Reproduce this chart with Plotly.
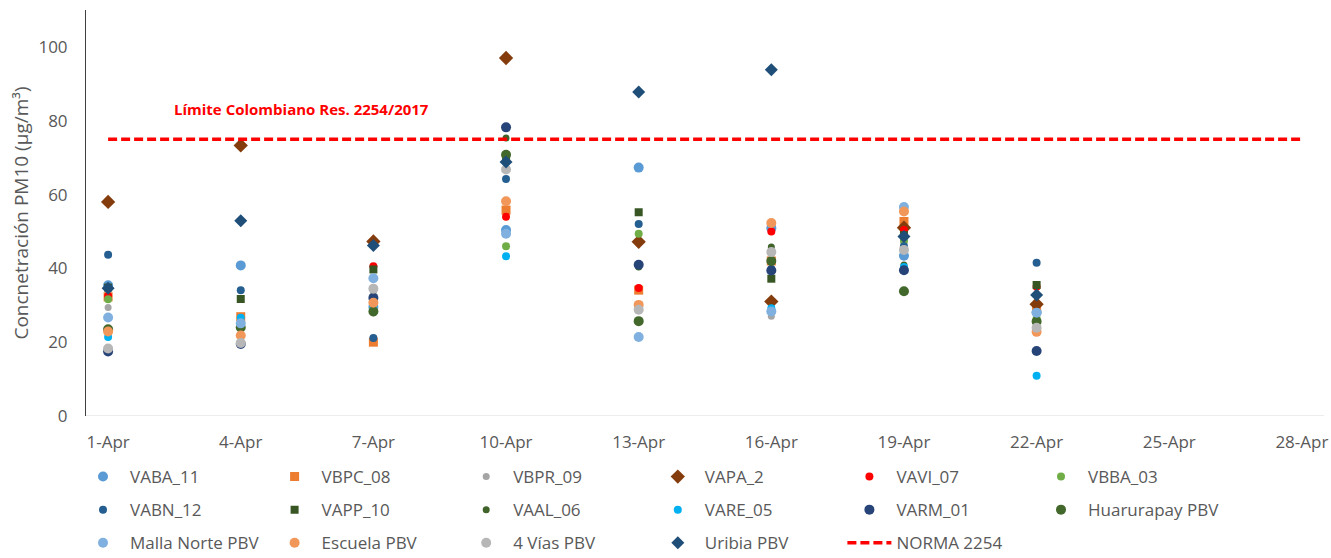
import plotly.graph_objects as go

# ---------------- data ----------------
dates = ["2021-04-01", "2021-04-04", "2021-04-07", "2021-04-10",
         "2021-04-13", "2021-04-16", "2021-04-19", "2021-04-22"]

VABA_11 = [35.4, 40.8, 29.5, 50.4, 67.3, 50.9, 43.4, 28.1]
VBPC_08 = [32.3, 26.9, 20.0, 55.8, 34.1, 42.0, 52.7, 29.2]
VBPR_09 = [29.4, 20.0, 33.5, 67.0, 29.0, 27.0, 47.0, 24.5]
VAPA_2 = [58.0, 73.3, 47.3, 97.0, 47.2, 31.0, 51.0, 30.3]
VAVI_07 = [32.5, 25.0, 40.6, 54.0, 34.7, 50.0, 50.4, 35.0]
VBBA_03 = [31.6, 24.0, 29.0, 46.0, 49.4, 44.5, 47.5, 26.5]
VABN_12 = [43.7, 34.1, 21.1, 64.2, 52.0, 39.8, 46.0, 41.5]
VAPP_10 = [34.8, 31.7, 39.7, 70.5, 55.2, 37.2, 49.0, 35.5]
VAAL_06 = [23.6, 24.5, 28.0, 75.3, 40.4, 45.8, 40.9, 26.0]
VARE_05 = [21.4, 26.6, 30.0, 43.3, 29.5, 29.2, 40.4, 10.9]
VARM_01 = [17.5, 19.5, 32.0, 78.2, 41.0, 39.4, 39.5, 17.6]
HUARURAPAY = [23.5, 24.0, 28.3, 70.8, 25.7, 42.0, 33.8, 25.6]
MALLA_NORTE = [26.7, 25.1, 37.3, 49.4, 21.4, 28.3, 56.6, 28.0]
ESCUELA = [22.9, 21.8, 30.7, 58.2, 30.1, 52.3, 55.4, 22.8]
CUATRO_VIAS = [18.3, 19.8, 34.5, 66.8, 28.8, 44.4, 45.0, 23.9]
URIBIA = [34.6, 52.9, 46.2, 68.8, 87.8, 93.8, 48.6, 32.8]

tick_dates = ["2021-04-01", "2021-04-04", "2021-04-07", "2021-04-10", "2021-04-13",
              "2021-04-16", "2021-04-19", "2021-04-22", "2021-04-25", "2021-04-28"]
tick_labels = ["1-Apr", "4-Apr", "7-Apr", "10-Apr", "13-Apr",
               "16-Apr", "19-Apr", "22-Apr", "25-Apr", "28-Apr"]
NORMA_LIMIT = 75
norma_values = [NORMA_LIMIT] * len(tick_dates)

y_ticks = [0, 20, 40, 60, 80, 100]

# ---------------- styles ----------------
FONT = "Open Sans"
GRAY = "#595959"

series = [
    # name, values, symbol, color, size, legend column
    ("VABA_11", VABA_11, "circle", "#5B9BD5", 10, "legend"),
    ("VABN_12", VABN_12, "circle", "#255E91", 8, "legend"),
    ("Malla Norte PBV", MALLA_NORTE, "circle", "#7FB0DF", 10, "legend"),
    ("VBPC_08", VBPC_08, "square", "#ED7D31", 9, "legend2"),
    ("VAPP_10", VAPP_10, "square", "#375623", 8, "legend2"),
    ("Escuela PBV", ESCUELA, "circle", "#F1975A", 10, "legend2"),
    ("VBPR_09", VBPR_09, "circle", "#A5A5A5", 7, "legend3"),
    ("VAAL_06", VAAL_06, "circle", "#3F6328", 7, "legend3"),
    ("4 Vías PBV", CUATRO_VIAS, "circle", "#B7B7B7", 10, "legend3"),
    ("VAPA_2", VAPA_2, "diamond", "#843C0C", 11, "legend4"),
    ("VARE_05", VARE_05, "circle", "#00B0F0", 8, "legend4"),
    ("Uribia PBV", URIBIA, "diamond", "#1F4E79", 10, "legend4"),
    ("VAVI_07", VAVI_07, "circle", "#FF0000", 8, "legend5"),
    ("VARM_01", VARM_01, "circle", "#264478", 10, "legend5"),
    ("VBBA_03", VBBA_03, "circle", "#70AD47", 8, "legend6"),
    ("Huarurapay PBV", HUARURAPAY, "circle", "#43682B", 10, "legend6"),
]
# Excel drawing order (later on top)
draw_order = ["VABA_11", "VBPC_08", "VBPR_09", "VAPA_2", "VAVI_07", "VBBA_03",
              "VABN_12", "VAPP_10", "VAAL_06", "VARE_05", "VARM_01", "Huarurapay PBV",
              "Malla Norte PBV", "Escuela PBV", "4 Vías PBV", "Uribia PBV"]
lookup = {s[0]: s for s in series}
legend_rank = {s[0]: i for i, s in enumerate(series)}

fig = go.Figure()
for name in draw_order:
    _, vals, sym, col, size, leg = lookup[name]
    fig.add_trace(go.Scatter(
        x=dates, y=vals, mode="markers", name=name,
        marker=dict(symbol=sym, color=col, size=size, line=dict(width=0)),
        legend=leg, legendgroup=name, legendrank=legend_rank[name],
    ))

fig.add_trace(go.Scatter(
    x=tick_dates, y=norma_values, mode="lines", name="NORMA 2254",
    line=dict(color="#FF0000", width=3.5, dash="9px,4px"),
    legend="legend5", legendgroup="NORMA 2254", legendrank=100,
))

# ---------------- layout ----------------
W, H = 1331, 558
L, R, T, B = 86, 7, 10, 142
pw, ph = W - L - R, H - T - B


def px_x(px):
    return (px - L) / pw


def px_y(py):
    return (H - B - py) / ph


ITEM_W = 44
marker_off = (ITEM_W + 10) / 2
legend_marker_cols = [103 + 191.6 * i for i in range(6)]
leg_common = dict(
    orientation="v", xanchor="left", yanchor="top", y=px_y(459),
    font=dict(family=FONT, size=17, color=GRAY), bgcolor="rgba(0,0,0,0)",
    traceorder="grouped", tracegroupgap=8, borderwidth=0, itemsizing="trace",
    itemwidth=ITEM_W,
)
legends = {}
for i, cx in enumerate(legend_marker_cols):
    key = "legend" if i == 0 else f"legend{i + 1}"
    legends[key] = dict(leg_common, x=px_x(cx - marker_off))

fig.update_layout(
    width=W, height=H,
    margin=dict(l=L, r=R, t=T, b=B, autoexpand=False),
    paper_bgcolor="white", plot_bgcolor="white",
    font=dict(family=FONT, size=17, color=GRAY),
    showlegend=True,
    **legends,
    xaxis=dict(
        type="date",
        range=["2021-03-31 12:00", "2021-04-28 12:00"],
        tickvals=tick_dates, ticktext=tick_labels,
        showgrid=False, zeroline=False,
        showline=False, ticks="",
        tickfont=dict(family=FONT, size=17, color=GRAY),
        ticklabelstandoff=14,
    ),
    yaxis=dict(
        range=[0, 110], tickvals=y_ticks,
        showgrid=False, zeroline=False,
        showline=True, linecolor="#404040", linewidth=1,
        ticks="", tickfont=dict(family=FONT, size=17, color=GRAY),
        ticklabelstandoff=14,
        title=dict(text="Concnetración PM10 (µg/m³)",
                   font=dict(family=FONT, size=19, color=GRAY), standoff=4),
    ),
    shapes=[dict(type="line", xref="paper", yref="y", x0=0, x1=1, y0=0, y1=0,
                 line=dict(color="#D9D9D9", width=1.2), layer="below")],
    annotations=[dict(
        text="<b>Límite Colombiano Res. 2254/2017</b>",
        xref="paper", yref="paper", x=px_x(301), y=px_y(109),
        showarrow=False, xanchor="center", yanchor="middle",
        font=dict(family=FONT, size=15, color="#FF0000"),
    )],
)

fig.write_html("out.html",
               config={"displayModeBar": False},
               post_script="document.body.style.margin='0px';"
                           "document.body.style.overflow='hidden';")
